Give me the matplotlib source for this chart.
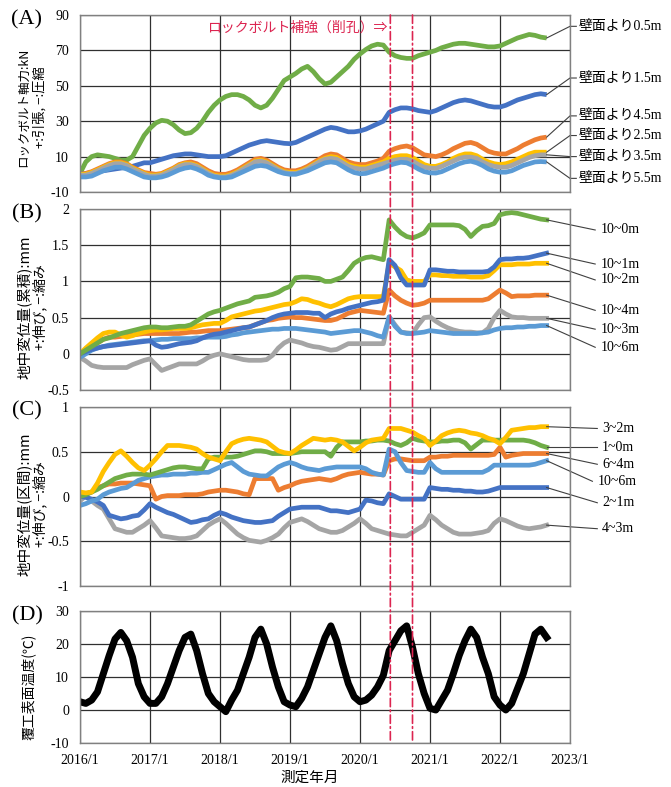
import numpy as np
import pandas as pd
import matplotlib
matplotlib.use('Agg')
import matplotlib.pyplot as plt
from matplotlib.patches import ConnectionPatch
from matplotlib.ticker import FormatStrFormatter

# 月ごとの読み取り値 (2016/1 ～ 2022/9)
months = pd.date_range('2016-01-01', '2022-09-01', freq='MS')
x = np.array(months.year + (months.month - 1) / 12)

# (A) ロックボルト軸力 kN
ax_05 = [0.5, 7, 10, 11, 10.5, 10, 9, 8, 8, 10, 16, 22,
         26, 29, 30.5, 30, 28, 25, 23, 23.5, 26, 30, 35, 39,
         42, 44, 45, 45, 44, 42, 39, 37.5, 39, 43, 48, 53,
         55, 57, 59.5, 61, 58, 54, 51, 52, 55, 58, 61, 65,
         68, 70.5, 72.5, 73.5, 73, 69, 67, 66, 65.5, 65.5, 67, 68,
         69, 70, 71.5, 72.5, 73.5, 74, 74, 73.5, 73, 72.5, 72, 72,
         72.5, 74, 75.5, 77, 78, 79, 78.5, 77.5, 77]
ax_15 = [0, 0.5, 1, 1.5, 2, 2.5, 3, 3.5, 4, 4.5, 5.5, 6.5,
         6.5, 7.5, 8.5, 9.5, 10.5, 11, 11.5, 11.5, 11, 10.5, 10, 10,
         10, 10.5, 12, 13.5, 15, 16.5, 17.5, 18.5, 19, 18.5, 18, 17.5,
         17.3, 18, 19.5, 21, 22.5, 24, 25.5, 26.5, 26, 25, 24, 24,
         24.5, 25.5, 27, 28.5, 30, 35, 36.5, 37.5, 37.5, 37, 36, 35.5,
         35, 36, 37.5, 39, 40.5, 41.5, 42, 41.5, 40.5, 39.5, 38.5, 38,
         38, 39, 40.5, 42, 43, 44, 45, 45.5, 45]
ax_45 = [0, 0.5, 1.5, 3, 4.5, 6, 7, 7, 6, 4, 2.5, 1,
         0.5, 0, 0.5, 2, 3.5, 5.5, 6.5, 7, 6, 4, 2, 0.5,
         0, 0, 1, 2.5, 4.5, 6.5, 8.5, 9, 8, 6, 4, 2.5,
         2, 2, 3, 4.5, 6.5, 8.5, 10.5, 11.5, 11, 9, 7, 6,
         5.5, 5.5, 6.5, 7.5, 9, 13, 14.5, 15.5, 16, 15, 13, 11,
         10.5, 10, 11, 12.5, 14.5, 16, 17.5, 18, 17, 15, 13, 12,
         11.5, 11.5, 13, 14.5, 16.5, 18, 19.5, 20.5, 21]
ax_25 = [0, 0, 1, 2.5, 4, 5.5, 6.5, 6.5, 5.5, 3.5, 2, 0.5,
         -0.5, -0.5, 0, 1.5, 3, 5, 6, 6, 5, 3, 1, -0.5,
         -1, -1, 0, 1.5, 3.5, 5.5, 7.5, 8, 7, 5, 3, 1.5,
         1, 1, 2, 3.5, 5.5, 7.5, 9, 10, 9.5, 7.5, 5.5, 4.5,
         4, 4, 5, 6, 7, 9, 10, 10.5, 10.5, 9.5, 7.5, 5.5,
         4.5, 4.5, 5.5, 7, 9, 10.5, 11.5, 11.5, 10.5, 8.5, 7, 6,
         5.5, 6, 7, 8.5, 10, 11.5, 12.5, 12.5, 12.5]
ax_35 = [-0.5, -0.5, 0.5, 2, 3.5, 5, 6, 6, 5, 3, 1.5, 0,
         -1, -1, -0.5, 1, 2.5, 4.5, 5.5, 5.5, 4.5, 2.5, 0.5, -1,
         -1.5, -1.5, -0.5, 1, 3, 5, 7, 7.5, 6.5, 4.5, 2.5, 1,
         0.5, 0.5, 1.5, 3, 5, 7, 8.5, 9, 8.5, 6.5, 4.5, 3.5,
         3, 3, 4, 5, 6, 7, 8, 8.5, 8.5, 7.5, 5.5, 4,
         3.5, 3.3, 4.5, 6, 7.5, 9, 9.7, 9.7, 9, 7, 5.5, 4.5,
         4, 4, 5, 6.5, 8, 9.5, 10.5, 11, 11]
ax_55 = [-1.5, -1.5, -1, 0.5, 2, 3, 4, 4, 3, 1.5, 0, -1.5,
         -2, -2, -1.5, -0.5, 1, 2.5, 3.5, 4, 3, 1.5, -0.5, -1.5,
         -2, -2, -1.5, 0, 1.5, 3, 4.5, 5, 4.5, 3, 1.5, 0.5,
         0, 0, 1, 2, 3.5, 5, 6.5, 7, 6.5, 4.5, 2.5, 1,
         0.3, 0.5, 1.5, 2.5, 3.5, 5, 6, 6.8, 6.5, 5, 3, 1.5,
         0.8, 0.7, 1.5, 3, 4.5, 6, 7, 7.4, 6.5, 5, 3, 1.8,
         1.2, 1.2, 2, 3.5, 5, 6, 7, 7.2, 7]

# (B) 地中変位量(累積) mm
b_100 = [0, 0.05, 0.1, 0.15, 0.2, 0.22, 0.25, 0.28, 0.3, 0.32, 0.34, 0.36,
         0.37, 0.37, 0.36, 0.36, 0.37, 0.38, 0.38, 0.4, 0.45, 0.5, 0.55, 0.58,
         0.6, 0.63, 0.66, 0.69, 0.71, 0.73, 0.78, 0.79, 0.8, 0.82, 0.85, 0.9,
         0.93, 1.05, 1.06, 1.06, 1.05, 1.04, 1.0, 1.0, 1.03, 1.06, 1.15, 1.25,
         1.3, 1.33, 1.34, 1.32, 1.3, 1.85, 1.75, 1.67, 1.62, 1.6, 1.63, 1.67,
         1.78, 1.78, 1.78, 1.78, 1.78, 1.77, 1.72, 1.62, 1.7, 1.76, 1.77, 1.8,
         1.92, 1.94, 1.95, 1.94, 1.92, 1.9, 1.88, 1.86, 1.85]
b_101 = [0, 0.03, 0.06, 0.08, 0.1, 0.11, 0.12, 0.13, 0.14, 0.15, 0.16, 0.17,
         0.18, 0.12, 0.09, 0.1, 0.12, 0.14, 0.15, 0.16, 0.18, 0.22, 0.25, 0.27,
         0.28, 0.3, 0.32, 0.34, 0.36, 0.37, 0.4, 0.43, 0.46, 0.5, 0.53, 0.55,
         0.56, 0.57, 0.57, 0.57, 0.56, 0.56, 0.5, 0.55, 0.58, 0.6, 0.63, 0.65,
         0.67, 0.69, 0.71, 0.72, 0.74, 1.3, 1.22, 1.05, 0.95, 0.95, 0.95, 0.95,
         1.16, 1.16, 1.15, 1.14, 1.14, 1.13, 1.13, 1.13, 1.13, 1.13, 1.14, 1.2,
         1.3, 1.31, 1.31, 1.32, 1.32, 1.33, 1.35, 1.37, 1.39]
b_102 = [0, 0.08, 0.15, 0.22, 0.28, 0.3, 0.3, 0.26, 0.23, 0.25, 0.28, 0.3,
         0.32, 0.33, 0.33, 0.34, 0.35, 0.35, 0.35, 0.36, 0.38, 0.4, 0.41, 0.42,
         0.42, 0.46, 0.51, 0.53, 0.55, 0.57, 0.59, 0.6, 0.62, 0.64, 0.66, 0.68,
         0.69, 0.72, 0.76, 0.75, 0.72, 0.7, 0.67, 0.65, 0.68, 0.72, 0.76, 0.78,
         0.79, 0.79, 0.79, 0.79, 0.79, 1.25, 1.2, 1.15, 1.02, 1.0, 1.0, 1.0,
         1.09, 1.09, 1.08, 1.08, 1.07, 1.07, 1.07, 1.06, 1.06, 1.06, 1.08, 1.15,
         1.23, 1.23, 1.23, 1.24, 1.24, 1.24, 1.25, 1.25, 1.25]
b_104 = [0, 0.05, 0.1, 0.15, 0.2, 0.23, 0.23, 0.24, 0.25, 0.26, 0.27, 0.28,
         0.28, 0.28, 0.28, 0.28, 0.28, 0.28, 0.29, 0.3, 0.3, 0.31, 0.32, 0.32,
         0.32, 0.33, 0.34, 0.35, 0.36, 0.37, 0.4, 0.43, 0.46, 0.47, 0.49, 0.5,
         0.51, 0.5, 0.5, 0.49, 0.48, 0.47, 0.46, 0.46, 0.48, 0.52, 0.56, 0.58,
         0.6, 0.59, 0.58, 0.57, 0.56, 0.88, 0.8, 0.74, 0.7, 0.67, 0.68, 0.7,
         0.74, 0.74, 0.74, 0.74, 0.74, 0.74, 0.74, 0.74, 0.74, 0.74, 0.76, 0.82,
         0.88, 0.84, 0.79, 0.8, 0.8, 0.8, 0.81, 0.81, 0.81]
b_103 = [-0.05, -0.1, -0.16, -0.18, -0.19, -0.19, -0.19, -0.19, -0.19, -0.15, -0.12, -0.09,
         -0.07, -0.15, -0.23, -0.2, -0.17, -0.14, -0.14, -0.14, -0.14, -0.1, -0.05, -0.02,
         0, -0.02, -0.04, -0.06, -0.08, -0.09, -0.09, -0.09, -0.08, -0.02, 0.08, 0.15,
         0.19, 0.17, 0.15, 0.12, 0.1, 0.09, 0.07, 0.05, 0.06, 0.1, 0.14, 0.14,
         0.14, 0.14, 0.14, 0.14, 0.14, 0.51, 0.4, 0.3, 0.29, 0.28, 0.4, 0.5,
         0.51, 0.45, 0.4, 0.36, 0.33, 0.31, 0.3, 0.3, 0.29, 0.29, 0.35, 0.5,
         0.6, 0.55, 0.51, 0.5, 0.5, 0.49, 0.49, 0.49, 0.49]
b_106 = [-0.05, 0, 0.05, 0.08, 0.1, 0.12, 0.13, 0.14, 0.15, 0.16, 0.17, 0.18,
         0.18, 0.19, 0.2, 0.2, 0.21, 0.21, 0.21, 0.21, 0.22, 0.22, 0.23, 0.23,
         0.23, 0.24, 0.26, 0.27, 0.29, 0.3, 0.31, 0.32, 0.33, 0.34, 0.34, 0.35,
         0.35, 0.35, 0.34, 0.33, 0.32, 0.31, 0.3, 0.28, 0.29, 0.3, 0.31, 0.32,
         0.32, 0.3, 0.28, 0.25, 0.23, 0.51, 0.38, 0.3, 0.28, 0.28, 0.29, 0.3,
         0.32, 0.31, 0.3, 0.29, 0.28, 0.28, 0.28, 0.28, 0.28, 0.29, 0.3, 0.33,
         0.35, 0.36, 0.36, 0.37, 0.37, 0.38, 0.38, 0.39, 0.39]

# (C) 地中変位量(区間) mm
c_32 = [0.05, 0.04, 0.05, 0.15, 0.28, 0.38, 0.47, 0.51, 0.45, 0.38, 0.32, 0.29,
        0.35, 0.42, 0.5, 0.57, 0.57, 0.57, 0.56, 0.55, 0.53, 0.48, 0.44, 0.42,
        0.4, 0.5, 0.59, 0.62, 0.64, 0.65, 0.64, 0.63, 0.61, 0.56, 0.51, 0.49,
        0.48, 0.52, 0.57, 0.61, 0.65, 0.64, 0.63, 0.64, 0.63, 0.61, 0.56, 0.51,
        0.55, 0.6, 0.63, 0.64, 0.65, 0.76, 0.76, 0.76, 0.74, 0.72, 0.68, 0.65,
        0.57, 0.62, 0.68, 0.71, 0.73, 0.74, 0.73, 0.71, 0.7, 0.68, 0.65, 0.63,
        0.59, 0.66, 0.74, 0.75, 0.76, 0.77, 0.77, 0.78, 0.78]
c_10 = [0, 0.02, 0.05, 0.08, 0.12, 0.16, 0.2, 0.22, 0.24, 0.25, 0.25, 0.25,
        0.24, 0.26, 0.28, 0.3, 0.32, 0.33, 0.33, 0.32, 0.31, 0.31, 0.42, 0.44,
        0.44, 0.44, 0.44, 0.45, 0.47, 0.49, 0.51, 0.51, 0.5, 0.48, 0.48, 0.48,
        0.48, 0.49, 0.5, 0.5, 0.5, 0.5, 0.5, 0.45, 0.55, 0.61, 0.61, 0.61,
        0.61, 0.62, 0.62, 0.63, 0.63, 0.62, 0.59, 0.57, 0.6, 0.65, 0.63, 0.62,
        0.61, 0.61, 0.62, 0.62, 0.63, 0.63, 0.6, 0.53, 0.58, 0.63, 0.63, 0.63,
        0.63, 0.63, 0.63, 0.63, 0.63, 0.62, 0.6, 0.57, 0.55]
c_64 = [0, 0.03, 0.05, 0.1, 0.12, 0.14, 0.14, 0.15, 0.15, 0.15, 0.14, 0.13,
        0.12, -0.03, 0, 0.01, 0.01, 0.01, 0.02, 0.02, 0.02, 0.03, 0.05, 0.06,
        0.07, 0.07, 0.06, 0.05, 0.03, 0.02, 0.2, 0.2, 0.2, 0.2, 0.07, 0.1,
        0.12, 0.15, 0.17, 0.18, 0.19, 0.2, 0.19, 0.18, 0.2, 0.23, 0.25, 0.26,
        0.27, 0.26, 0.25, 0.25, 0.24, 0.4, 0.42, 0.42, 0.41, 0.4, 0.4, 0.4,
        0.44, 0.44, 0.45, 0.45, 0.46, 0.46, 0.46, 0.46, 0.46, 0.46, 0.46, 0.47,
        0.55, 0.44, 0.46, 0.47, 0.48, 0.48, 0.48, 0.48, 0.48]
c_106 = [-0.1, -0.08, -0.05, -0.03, 0.02, 0.05, 0.07, 0.09, 0.1, 0.14, 0.18, 0.2,
         0.22, 0.23, 0.24, 0.24, 0.25, 0.25, 0.25, 0.26, 0.26, 0.27, 0.27, 0.3,
         0.33, 0.36, 0.38, 0.33, 0.28, 0.25, 0.24, 0.23, 0.23, 0.28, 0.33, 0.36,
         0.38, 0.36, 0.33, 0.31, 0.3, 0.29, 0.31, 0.32, 0.33, 0.33, 0.33, 0.33,
         0.33, 0.31, 0.27, 0.25, 0.24, 0.53, 0.5, 0.38, 0.29, 0.28, 0.27, 0.27,
         0.38, 0.31, 0.27, 0.27, 0.27, 0.27, 0.27, 0.27, 0.27, 0.27, 0.3, 0.35,
         0.35, 0.35, 0.35, 0.35, 0.35, 0.35, 0.36, 0.38, 0.4]
c_21 = [0, -0.01, -0.03, -0.06, -0.1, -0.21, -0.23, -0.25, -0.24, -0.22, -0.21, -0.15,
        -0.08, -0.12, -0.15, -0.18, -0.2, -0.23, -0.26, -0.29, -0.28, -0.26, -0.25, -0.21,
        -0.18, -0.2, -0.23, -0.25, -0.27, -0.28, -0.29, -0.29, -0.28, -0.27, -0.22, -0.18,
        -0.14, -0.13, -0.12, -0.12, -0.12, -0.12, -0.14, -0.16, -0.16, -0.17, -0.18, -0.16,
        -0.14, -0.04, -0.05, -0.07, -0.08, 0.03, 0.0, -0.03, -0.03, -0.03, -0.03, -0.03,
        0.1, 0.09, 0.08, 0.08, 0.07, 0.07, 0.06, 0.06, 0.05, 0.05, 0.06, 0.08,
        0.1, 0.1, 0.1, 0.1, 0.1, 0.1, 0.1, 0.1, 0.1]
c_43 = [-0.05, 0.01, -0.05, -0.1, -0.14, -0.25, -0.36, -0.38, -0.4, -0.4, -0.36, -0.32,
        -0.27, -0.35, -0.44, -0.45, -0.46, -0.47, -0.47, -0.46, -0.44, -0.38, -0.32, -0.28,
        -0.25, -0.3, -0.36, -0.42, -0.46, -0.49, -0.5, -0.51, -0.49, -0.46, -0.42, -0.35,
        -0.29, -0.27, -0.25, -0.28, -0.32, -0.36, -0.38, -0.4, -0.4, -0.38, -0.34, -0.3,
        -0.25, -0.3, -0.36, -0.38, -0.4, -0.42, -0.43, -0.44, -0.44, -0.4, -0.36, -0.32,
        -0.21, -0.26, -0.32, -0.36, -0.4, -0.42, -0.42, -0.42, -0.41, -0.4, -0.38, -0.3,
        -0.25, -0.27, -0.3, -0.33, -0.35, -0.36, -0.35, -0.34, -0.32]

# (D) 覆工表面温度 ℃
temp = [2.5, 2, 3, 5.5, 11, 16.5, 21.5, 23.5, 21, 16, 8, 4,
        2, 2, 4, 8, 13, 18, 22, 23, 18, 11, 5, 2.5,
        1, -0.5, 3, 6, 11, 16, 22, 24.5, 20, 13, 7, 2.5,
        1.5, 1, 3.5, 7, 12, 17, 22, 25.5, 21, 14, 8, 4,
        2.5, 3, 4.5, 7, 10.5, 18, 21, 24, 25.5, 19, 11, 5,
        0.5, 0, 3, 6, 11, 16.5, 21, 24.5, 22, 16, 11, 4,
        1.5, 0, 2, 6.5, 11, 17, 23, 24.5, 22]

# ロックボルト補強(削孔)の時期
hokyo = [2020 + 5.2 / 12, 2020 + 9.0 / 12]

GREEN, BLUE, ORANGE = '#70AD47', '#4472C4', '#ED7D31'
YELLOW, GRAY, LBLUE = '#FFC000', '#A5A5A5', '#5B9BD5'
RED = '#DC2450'
JP = ['Noto Sans CJK JP', 'DejaVu Sans']
SERIF_JP = ['Liberation Serif', 'Noto Sans CJK JP']

plt.rcParams['font.family'] = ['Liberation Serif', 'Noto Sans CJK JP']
plt.rcParams['axes.unicode_minus'] = False

W, H = 671, 787
fig = plt.figure(figsize=(W / 100, H / 100), dpi=100)


def box(top, bottom):
    return [80 / W, 1 - bottom / H, 490 / W, (bottom - top) / H]


def style(ax, ylim, step, show_x=False):
    ax.set_xlim(2016, 2023)
    ax.set_ylim(*ylim)
    ax.set_yticks(np.arange(ylim[0], ylim[1] + step / 2, step))
    ax.yaxis.set_major_formatter(FormatStrFormatter('%g'))
    ax.set_xticks(range(2016, 2024))
    ax.grid(True, color='#303030', lw=0.9)
    ax.set_axisbelow(True)
    for s in ax.spines.values():
        s.set_color('#808080')
        s.set_linewidth(1)
    ax.tick_params(length=0, labelsize=10, pad=8)
    if show_x:
        ax.set_xticklabels([f'{y}/1' for y in range(2016, 2024)])
    else:
        ax.set_xticklabels([])


axA = fig.add_axes(box(15, 192))
axB = fig.add_axes(box(209, 390))
axC = fig.add_axes(box(407, 586))
axD = fig.add_axes(box(611, 743))

style(axA, (-10, 90), 20)
style(axB, (-0.5, 2), 0.5)
style(axC, (-1, 1), 0.5)
style(axD, (-10, 30), 10, show_x=True)

LW = 3.4
LC = '#404040'

# (A)
a_series = [(ax_05, GREEN, '壁面より0.5m', 83.6),
            (ax_15, BLUE, '壁面より1.5m', 54.4),
            (ax_45, ORANGE, '壁面より4.5m', 33.0),
            (ax_25, YELLOW, '壁面より2.5m', 21.9),
            (ax_35, GRAY, '壁面より3.5m', 10.0),
            (ax_55, LBLUE, '壁面より5.5m', -2.3)]
for vals, col, lab, ly in a_series:
    axA.plot(x, vals, color=col, lw=LW, solid_capstyle='butt')
for vals, col, lab, ly in a_series:
    axA.plot([x[-1], 2023.0, 2023.09], [vals[-1], ly, ly], color=LC, lw=0.8, clip_on=False)
    axA.text(2023.12, ly, lab, fontsize=10, va='center', ha='left', family=SERIF_JP)

axA.text(0.627, 0.93, 'ロックボルト補強（削孔）⇒', transform=axA.transAxes,
         color=RED, fontsize=10, ha='right', va='center', family=JP)

# (B)
b_series = [(b_103, GRAY, '10~3m', 0.34),
            (b_106, LBLUE, '10~6m', 0.09),
            (b_104, ORANGE, '10~4m', 0.60),
            (b_102, YELLOW, '10~2m', 1.02),
            (b_101, BLUE, '10~1m', 1.24),
            (b_100, GREEN, '10~0m', 1.71)]
for vals, col, lab, ly in b_series:
    axB.plot(x, vals, color=col, lw=LW)
    axB.plot([x[-1], 2023.36], [vals[-1], ly], color=LC, lw=0.8, clip_on=False)
    axB.text(2023.44, ly, lab, fontsize=10, va='center', ha='left')

# (C)
c_series = [(c_43, GRAY, '4~3m', -0.36, 2023.39, 2023.46),
            (c_21, BLUE, '2~1m', -0.07, 2023.39, 2023.46),
            (c_64, ORANGE, '6~4m', 0.36, 2023.39, 2023.46),
            (c_106, LBLUE, '10~6m', 0.17, 2023.32, 2023.40),
            (c_10, GREEN, '1~0m', 0.55, 2023.39, 2023.46),
            (c_32, YELLOW, '3~2m', 0.76, 2023.39, 2023.46)]
for vals, col, lab, ly, xe, xt in c_series:
    axC.plot(x, vals, color=col, lw=LW)
    axC.plot([x[-1], xe], [vals[-1], ly], color=LC, lw=0.8, clip_on=False)
    axC.text(xt, ly, lab, fontsize=10, va='center', ha='left')

# (D)
axD.plot(x, temp, color='black', lw=5)

# 補強時期の縦線 (全パネル通し)
for d in hokyo:
    cp = ConnectionPatch(xyA=(d, 90), coordsA=axA.transData,
                         xyB=(d, -10), coordsB=axD.transData,
                         color=RED, lw=1.2, linestyle=(0, (5, 2, 1, 2)), zorder=10)
    fig.add_artist(cp)

# パネル記号
for lab, yy in [('(A)', 20), ('(B)', 214), ('(C)', 411), ('(D)', 616)]:
    fig.text(27 / W, 1 - yy / H, lab, fontsize=16, ha='center', va='center')

# 縦軸ラベル
ylabels = [('ロックボルト軸力:kN', '+:引張, −:圧縮', 107, 9, 9.5),
           ('地中変位量(累積):mm', '+:伸び, −:縮み', 307, 10.5, 10),
           ('地中変位量(区間):mm', '+:伸び, −:縮み', 504, 10.5, 10)]
for line1, line2, yc, fs1, fs2 in ylabels:
    fig.text(24 / W, 1 - yc / H, line1, rotation=90, fontsize=fs1,
             ha='center', va='center', family=JP)
    fig.text(40 / W, 1 - yc / H, line2, rotation=90, fontsize=fs2,
             ha='center', va='center', family=JP)
fig.text(28 / W, 1 - 687 / H, '覆工表面温度(℃)', rotation=90, fontsize=10,
         ha='center', va='center', family=JP)

fig.text(310 / W, 1 - 778 / H, '測定年月', fontsize=10.5, ha='center', va='center', family=JP)

fig.savefig('out.png', dpi=100)
